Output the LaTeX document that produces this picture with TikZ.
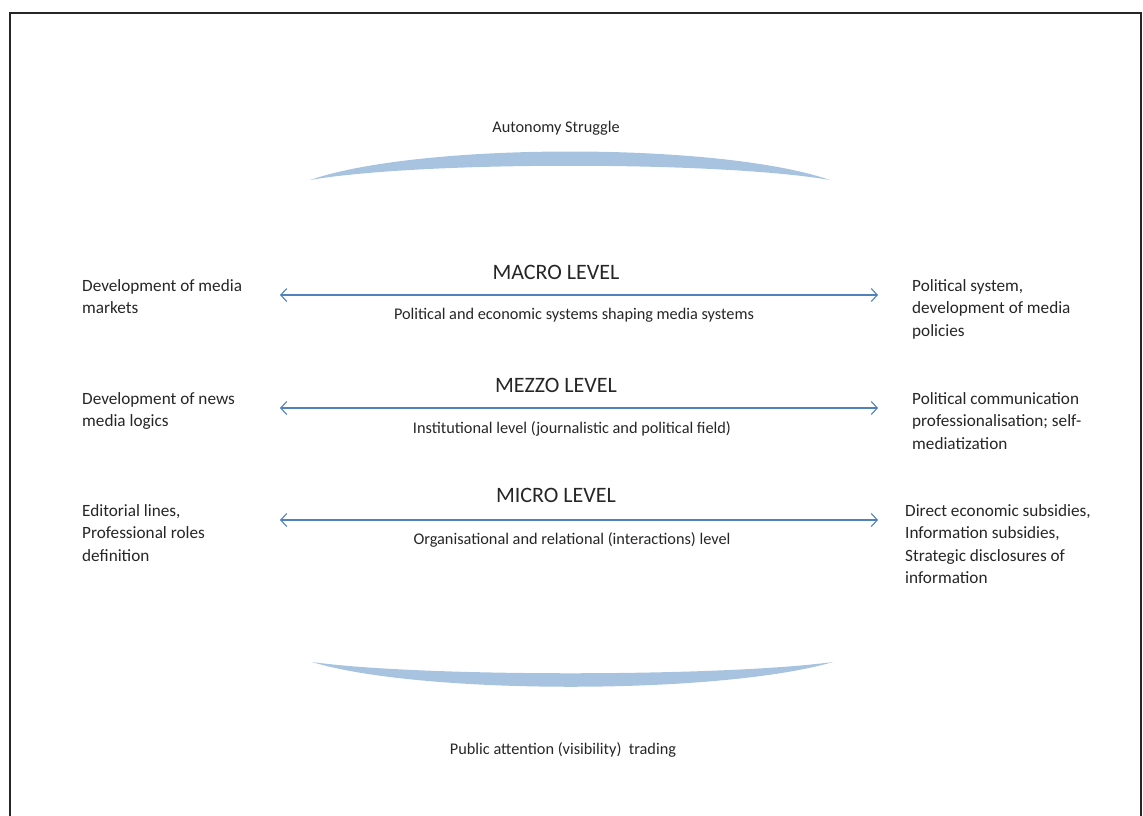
\documentclass[tikz,border=0pt]{standalone}
\usepackage{fontspec}
\setmainfont{Carlito}
\usetikzlibrary{arrows.meta}
\definecolor{arrowblue}{RGB}{79,129,189}
\definecolor{crescent}{RGB}{168,195,224}
\begin{document}
\begin{tikzpicture}[x=1pt,y=-1pt,
  txt/.style={font=\fontsize{17.2}{22.5}\selectfont, inner sep=0pt, align=left, text=black!85, anchor=north west},
  ctxt/.style={font=\fontsize{16.3}{22.5}\selectfont, inner sep=0pt, align=center, text=black!85},
  lvl/.style={font=\fontsize{22}{26}\selectfont, inner sep=0pt, text=black!85},
  link/.style={draw=arrowblue, line width=1.1pt, {Straight Barb[length=6pt,width=13pt]}-{Straight Barb[length=6pt,width=13pt]}},
  crs/.style={fill=crescent, draw=none}]
\useasboundingbox (0,0) rectangle (1143,815);
\draw[line width=2pt, black!85] (10,830) -- (10,13) -- (1141,13) -- (1141,830);

% crescents
\fill[crs] (310,180) .. controls (420,142) and (720,142) .. (830,180)
  .. controls (720,161) and (420,161) .. (310,180) -- cycle;
\fill[crs] (312,662) .. controls (420,677) and (720,677) .. (833,662)
  .. controls (720,695) and (420,695) .. (312,662) -- cycle;

\node[ctxt] (aut) at (556,128) {Autonomy Struggle};
\node[ctxt] (pub) at (563,750) {Public attention (visibility)\ \ trading};

% levels
\node[lvl] (macro) at (556,272) {MACRO LEVEL};
\node[ctxt] (macrod) at (574,315) {Political and economic\ systems shaping\ media systems};
\node[lvl] (mezzo) at (556,385) {MEZZO LEVEL};
\node[ctxt] (mezzod) at (572,429) {Institutional level (journalistic and political field)};
\node[lvl] (micro) at (556,495) {MICRO LEVEL};
\node[ctxt] (microd) at (572,540) {Organisational and relational (interactions) level};

% left
\node[txt] (l1) at (82,279) {Development of media\\markets};
\node[txt] (l2) at (82,392) {Development of news\\media logics};
\node[txt] (l3) at (82,504) {Editorial lines,\\Professional roles\\definition};

% right
\node[txt] (r1) at (912,279) {Political system,\\development of media\\policies};
\node[txt] (r2) at (912,392) {Political communication\\professionalisation; self-\\mediatization};
\node[txt] (r3) at (905,504) {Direct economic subsidies,\\Information subsidies,\\Strategic disclosures of\\information};

% arrows
\coordinate (a1l) at (280,295); \coordinate (a1r) at (878,295);
\coordinate (a2l) at (280,408); \coordinate (a2r) at (878,408);
\coordinate (a3l) at (280,520); \coordinate (a3r) at (878,520);
\draw[link] (a1l) -- (a1r);
\draw[link] (a2l) -- (a2r);
\draw[link] (a3l) -- (a3r);
\end{tikzpicture}
\end{document}
